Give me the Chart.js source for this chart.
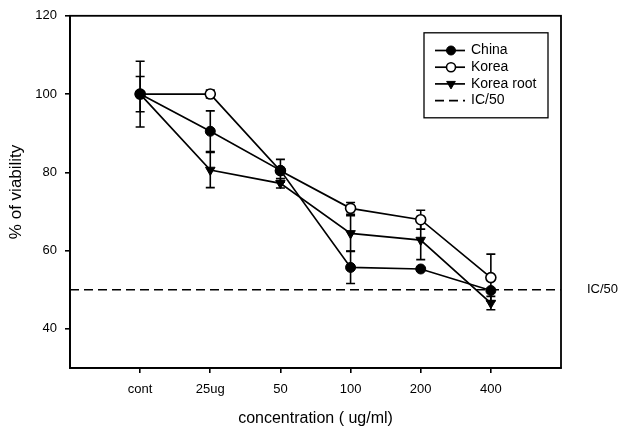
<!DOCTYPE html>
<html><head><meta charset="utf-8">
<script src="https://cdn.jsdelivr.net/npm/chart.js@4/dist/chart.umd.min.js"></script>
<style>html,body{margin:0;padding:0;background:#fff}#wrap{width:619px;height:428px}</style>
</head><body><div id="wrap"><canvas id="c" width="619" height="428"></canvas></div>
<script>
const categories = ['cont', '25ug', '50', '100', '200', '400'];
const chinaValues = [100, 90.5, 80.5, 55.7, 55.3, 49.8];
const chinaErrors = [8.4, 5.2, 0, 4.1, 0, 0];
const koreaValues = [100, 100, 80.4, 70.8, 67.9, 53.1];
const koreaErrors = [0, 1, 2.9, 1.5, 2.4, 6];
const rootValues = [100, 80.6, 77.2, 64.4, 62.7, 46.6];
const rootErrors = [4.5, 4.5, 1.2, 4.5, 5, 1.7];
const icLevel = 50;
const yTicks = [40, 60, 80, 100, 120];
const seriesNames = ['China', 'Korea', 'Korea root', 'IC/50'];

const FONT = "'Liberation Sans', Arial, sans-serif";
const toPts = vals => vals.map((v, i) => ({x: i + 1, y: v}));

const errorBars = {
  id: 'errorBars',
  beforeDatasetsDraw(chart) {
    const {ctx, scales: {x, y}} = chart;
    ctx.save();
    ctx.strokeStyle = '#000';
    ctx.lineWidth = 1.6;
    chart.data.datasets.forEach(ds => {
      if (!ds.errors) return;
      ds.data.forEach((p, i) => {
        const e = ds.errors[i];
        if (!e) return;
        const px = x.getPixelForValue(p.x);
        const top = y.getPixelForValue(p.y + e);
        const bot = y.getPixelForValue(p.y - e);
        ctx.beginPath();
        ctx.moveTo(px, top); ctx.lineTo(px, bot);
        ctx.moveTo(px - 4.5, top); ctx.lineTo(px + 4.5, top);
        ctx.moveTo(px - 4.5, bot); ctx.lineTo(px + 4.5, bot);
        ctx.stroke();
      });
    });
    ctx.restore();
  }
};

const frameAndLegend = {
  id: 'frameAndLegend',
  afterDraw(chart) {
    const {ctx, chartArea: a, scales: {y}} = chart;
    ctx.save();
    ctx.strokeStyle = '#000';
    ctx.lineWidth = 1.8;
    ctx.strokeRect(a.left, a.top, a.right - a.left, a.bottom - a.top);
    // legend box
    const lx = a.right - 137, ly = a.top + 17, lw = 124, lh = 85;
    ctx.lineWidth = 1.3;
    ctx.strokeRect(lx, ly, lw, lh);
    ctx.font = '14px ' + FONT;
    ctx.textBaseline = 'middle';
    ctx.textAlign = 'left';
    ctx.fillStyle = '#000';
    chart.data.datasets.forEach((ds, i) => {
      const cy = ly + 17.7 + i * 16.7;
      ctx.save();
      ctx.lineWidth = 1.7;
      ctx.setLineDash(ds.borderDash || []);
      ctx.beginPath();
      ctx.moveTo(lx + 11, cy); ctx.lineTo(lx + 41, cy);
      ctx.stroke();
      ctx.restore();
      if (ds.pointRadius > 0) {
        ctx.save();
        ctx.fillStyle = ds.pointBackgroundColor;
        ctx.strokeStyle = '#000';
        ctx.lineWidth = ds.pointBorderWidth;
        Chart.helpers.drawPoint(ctx, {pointStyle: ds.pointStyle, radius: ds.pointRadius - 0.5, rotation: ds.pointRotation || 0, borderWidth: ds.pointBorderWidth}, lx + 27, cy);
        ctx.restore();
      }
      ctx.fillStyle = '#000';
      ctx.fillText(ds.label, lx + 47, cy);
    });
    // IC/50 side label
    ctx.font = '13px ' + FONT;
    ctx.fillText(seriesNames[3], a.right + 26, y.getPixelForValue(icLevel));
    ctx.restore();
  }
};

new Chart(document.getElementById('c'), {
  type: 'line',
  data: {
    datasets: [
      {label: seriesNames[0], data: toPts(chinaValues), errors: chinaErrors,
       borderColor: '#000', borderWidth: 1.7, pointStyle: 'circle', pointRadius: 5,
       pointBackgroundColor: '#000', pointBorderColor: '#000', pointBorderWidth: 1},
      {label: seriesNames[1], data: toPts(koreaValues), errors: koreaErrors,
       borderColor: '#000', borderWidth: 1.7, pointStyle: 'circle', pointRadius: 5,
       pointBackgroundColor: '#fff', pointBorderColor: '#000', pointBorderWidth: 1.6},
      {label: seriesNames[2], data: toPts(rootValues), errors: rootErrors,
       borderColor: '#000', borderWidth: 1.7, pointStyle: 'triangle', pointRotation: 180, pointRadius: 5.5,
       pointBackgroundColor: '#000', pointBorderColor: '#000', pointBorderWidth: 1},
      {label: seriesNames[3], data: [{x: 0, y: icLevel}, {x: categories.length + 1, y: icLevel}],
       borderColor: '#000', borderWidth: 1.6, borderDash: [9, 5], pointRadius: 0}
    ]
  },
  options: {
    responsive: false,
    animation: false,
    devicePixelRatio: 1,
    layout: {padding: {top: 13, right: 58, bottom: 0, left: 0}},
    plugins: {legend: {display: false}, tooltip: {enabled: false}},
    scales: {
      x: {
        type: 'linear', min: 0, max: categories.length + 1,
        afterBuildTicks: s => { s.ticks = categories.map((c, i) => ({value: i + 1})); },
        afterFit: s => { s.height = 60; },
        ticks: {callback: v => categories[v - 1] ?? '', autoSkip: false, maxRotation: 0,
                font: {family: FONT, size: 13}, color: '#000', padding: 9},
        grid: {drawOnChartArea: false, drawTicks: true, tickLength: 5, color: '#000', lineWidth: 1.6},
        border: {display: true, color: '#000', width: 1.8},
        title: {display: true, text: 'concentration ( ug/ml)', color: '#000',
                font: {family: FONT, size: 16}, padding: {top: 0, bottom: 0}}
      },
      y: {
        type: 'linear', min: 30, max: 120,
        afterBuildTicks: s => { s.ticks = yTicks.map(v => ({value: v})); },
        afterFit: s => { s.width = 70; },
        ticks: {font: {family: FONT, size: 13}, color: '#000', padding: 8},
        grid: {drawOnChartArea: false, drawTicks: true, tickLength: 5, color: '#000', lineWidth: 1.6},
        border: {display: true, color: '#000', width: 1.8},
        title: {display: true, text: '% of viability', color: '#000',
                font: {family: FONT, size: 17}, padding: {top: 6, bottom: 0}}
      }
    }
  },
  plugins: [errorBars, frameAndLegend]
});
</script></body></html>
